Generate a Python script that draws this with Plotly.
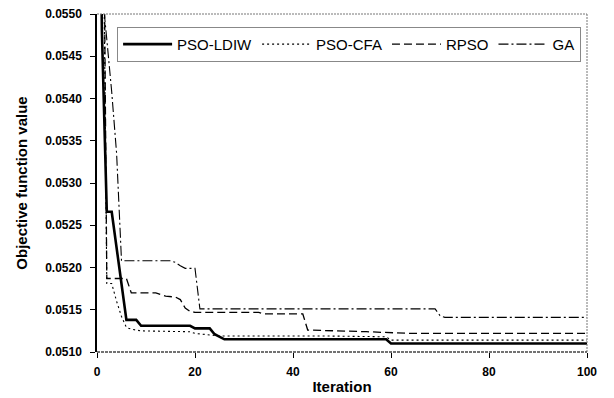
import plotly.graph_objects as go

# Iteration break points and objective values
ldiw_x = [0, 1, 2, 3, 6, 8, 9, 19, 20, 23, 24, 25, 26, 59, 60, 100]
ldiw_y = [0.0600, 0.0548, 0.05266, 0.05266, 0.05138, 0.05138, 0.05131, 0.05131,
          0.05128, 0.05128, 0.05121, 0.05118, 0.05115, 0.05115, 0.05110, 0.05110]

cfa_x = [0, 1, 2, 3, 4, 5, 6, 7, 9, 19, 20, 23, 25, 46, 59, 60, 100]
cfa_y = [0.0610, 0.0580, 0.05181, 0.05181, 0.05160, 0.05142, 0.05129, 0.05127,
         0.05125, 0.05124, 0.05122, 0.05120, 0.05119, 0.05119, 0.05118, 0.05114, 0.05114]

rpso_x = [0, 1, 2, 6, 7, 12, 14, 16, 17, 18, 19, 20, 33, 34, 42, 43, 55, 63, 64, 100]
rpso_y = [0.0620, 0.0590, 0.05187, 0.05187, 0.05170, 0.05170, 0.05166, 0.05165,
          0.05162, 0.05152, 0.05148, 0.05147, 0.05147, 0.05145, 0.05145, 0.05126,
          0.05124, 0.05123, 0.05122, 0.05122]

ga_x = [0, 1, 2, 3, 4, 5, 15, 16, 17, 18, 20, 21, 69, 70, 71, 100]
ga_y = [0.0580, 0.0553, 0.0547, 0.05408, 0.05335, 0.05208, 0.05208, 0.05206,
        0.05202, 0.05199, 0.05199, 0.05151, 0.05151, 0.05143, 0.05141, 0.05141]

series_names = ["PSO-LDIW", "PSO-CFA", "RPSO", "GA"]
x_ticks = [0, 20, 40, 60, 80, 100]
y_ticks = [0.0510, 0.0515, 0.0520, 0.0525, 0.0530, 0.0535, 0.0540, 0.0545, 0.0550]

fig = go.Figure()
styles = [
    dict(color="black", width=2.6, dash="solid"),
    dict(color="black", width=1.1, dash="2px,3px"),
    dict(color="black", width=1.3, dash="8px,4px"),
    dict(color="black", width=1.1, dash="10px,3px,2px,3px"),
]
for name, xs, ys, st in zip(series_names, [ldiw_x, cfa_x, rpso_x, ga_x],
                            [ldiw_y, cfa_y, rpso_y, ga_y], styles):
    fig.add_trace(go.Scatter(x=xs, y=ys, mode="lines", name=name, line=st))

# The page body has an 8px default margin, so the figure is 8px smaller
fig.update_layout(
    template="none",
    width=606, height=390,
    margin=dict(l=89, r=27, t=6, b=46, autoexpand=False),
    paper_bgcolor="white", plot_bgcolor="white",
    font=dict(family="Liberation Sans, Arial, sans-serif", color="black", size=12),
    legend=dict(
        orientation="h", x=0.041, y=0.962, xanchor="left", yanchor="top",
        bordercolor="#888888", borderwidth=1, bgcolor="white",
        font=dict(size=15), itemwidth=49, tracegroupgap=0,
    ),
    xaxis=dict(
        range=[0, 100], tickvals=x_ticks, showgrid=False, zeroline=False,
        showline=False, ticks="outside", ticklen=5, tickcolor="black",
        automargin=False, ticklabelstandoff=4, ticklabeloverflow="allow",
        tickfont=dict(size=12, weight="bold"),
        title=dict(text="<b>Iteration</b>", font=dict(size=15), standoff=3),
    ),
    yaxis=dict(
        range=[0.0510, 0.0550], tickvals=y_ticks, tickformat=".4f",
        showgrid=False, zeroline=False, showline=True, linecolor="black",
        linewidth=1.5, ticks="outside", ticklen=5, tickcolor="black",
        automargin=False, ticklabelstandoff=6, ticklabeloverflow="allow",
        tickfont=dict(size=12, weight="bold"),
        title=dict(text="<b>Objective function value</b>", font=dict(size=15), standoff=14),
    ),
    shapes=[
        dict(type="line", xref="paper", yref="paper", x0=0, x1=1, y0=1, y1=1,
             line=dict(color="#777777", width=1, dash="2px,1px")),
        dict(type="line", xref="paper", yref="paper", x0=1, x1=1, y0=0, y1=1,
             line=dict(color="#777777", width=1, dash="2px,1px")),
        dict(type="line", xref="paper", yref="paper", x0=0, x1=1, y0=0, y1=0,
             line=dict(color="#444444", width=1.3, dash="3px,1px")),
    ],
)

fig.write_html("out.html")
